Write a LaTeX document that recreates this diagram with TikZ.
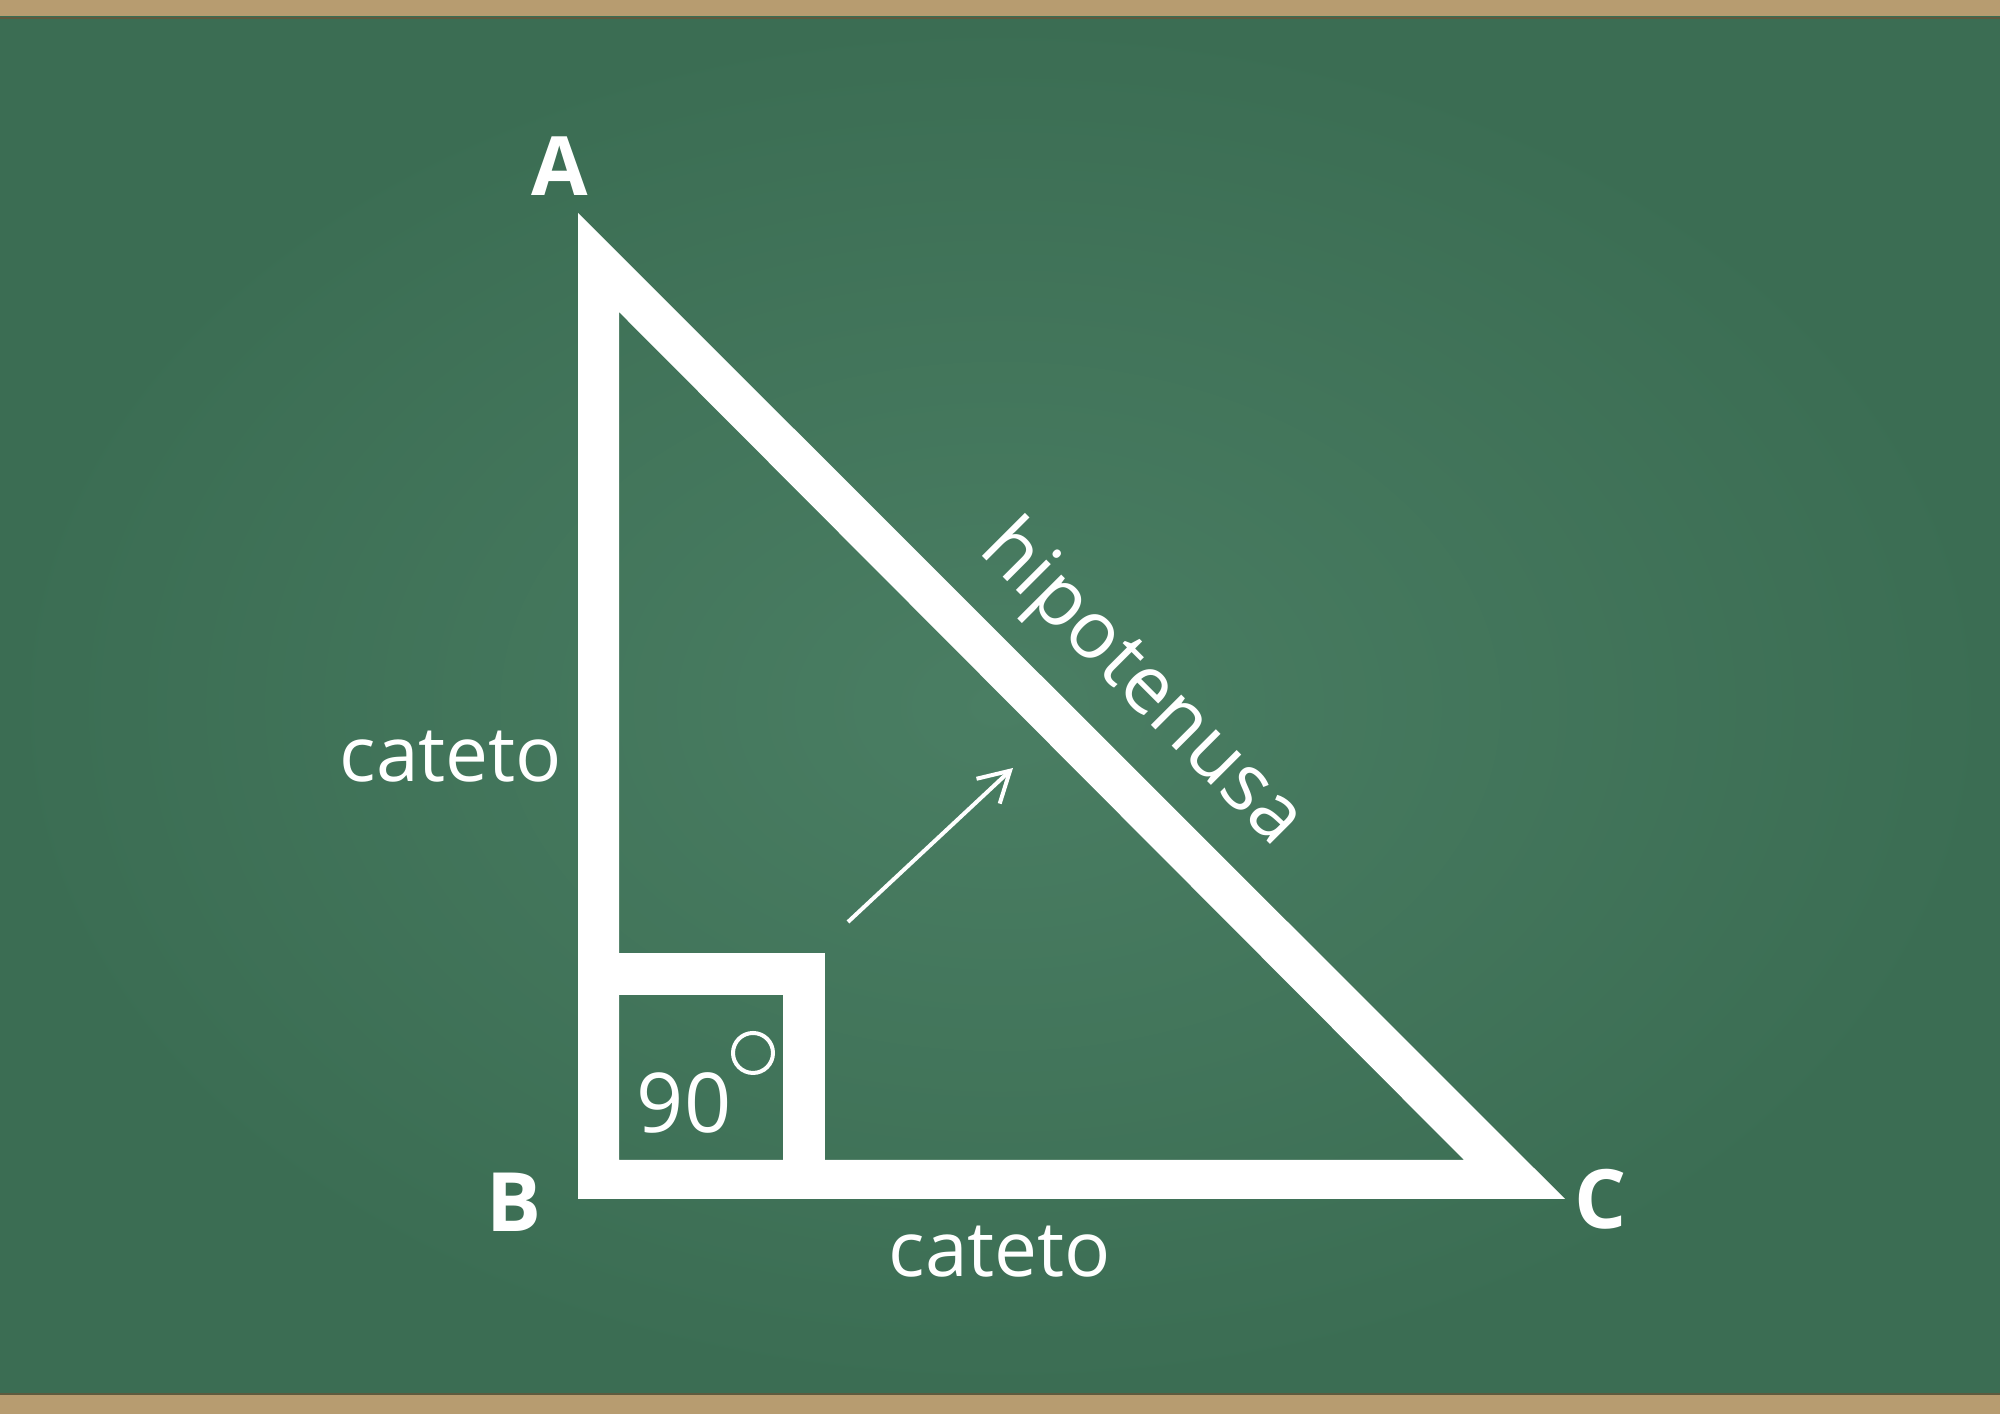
\documentclass[tikz,border=0pt]{standalone}
\usepackage{fontspec}
\setmainfont{Open Sans}
\usetikzlibrary{arrows.meta}
\definecolor{board}{HTML}{3B6D53}
\definecolor{boardlight}{HTML}{4A7E63}
\definecolor{wood}{HTML}{B79C70}
\definecolor{edge}{HTML}{5E5A3E}
\tikzstyle{vertex} = [text=white, font=\fontsize{23.3pt}{28pt}\selectfont\bfseries, anchor=base, inner sep=0pt]
\tikzstyle{side} = [text=white, font=\fontsize{21.8pt}{26pt}\selectfont, anchor=base, inner sep=0pt]
\tikzstyle{arrow} = [white, line width=0.4mm, -{Straight Barb[length=3mm, width=3.4mm]}]

\begin{document}
\begin{tikzpicture}[x=0.1mm, y=0.1mm]
\useasboundingbox (0,0) rectangle (2000,1414);

% Board
\fill[wood] (0,0) rectangle (2000,1414);
\shade[inner color=boardlight, outer color=board] (0,19) rectangle (2000,1397);
\fill[edge] (0,1395) rectangle (2000,1397);
\fill[edge] (0,19) rectangle (2000,21);

% Corners
\coordinate (a) at (578,1201);
\coordinate (b) at (578,215);
\coordinate (c) at (1565,215);
\coordinate (ai) at (619,1102);
\coordinate (bi) at (619,254);
\coordinate (ci) at (1464,254);

% Triangle
\fill[white, even odd rule] (a) -- (b) -- (c) -- cycle (ai) -- (bi) -- (ci) -- cycle;

% Right angle
\fill[white] (619,419) rectangle (825,461);
\fill[white] (783,254) rectangle (825,461);
\node (ninety) [side, font=\fontsize{23.5pt}{28pt}\selectfont] at (684,281) {90};
\node (deg) [circle, draw=white, line width=0.4mm, minimum size=4mm, inner sep=0pt] at (753,361) {};

% Arrow
\coordinate (p) at (848,492);
\coordinate (q) at (1013,646);
\draw [arrow] (p) -- (q);

% Labels
\node (A) [vertex] at (560,1218) {A};
\node (B) [vertex] at (514,182) {B};
\node (C) [vertex] at (1601,185) {C};
\node (leg1) [side] at (451,632) {cateto};
\node (leg2) [side] at (1000,137) {cateto};
\node (hyp) [side, font=\fontsize{22.8pt}{27pt}\selectfont, rotate=-45] at (1126,714) {hipotenusa};

\end{tikzpicture}
\end{document}
